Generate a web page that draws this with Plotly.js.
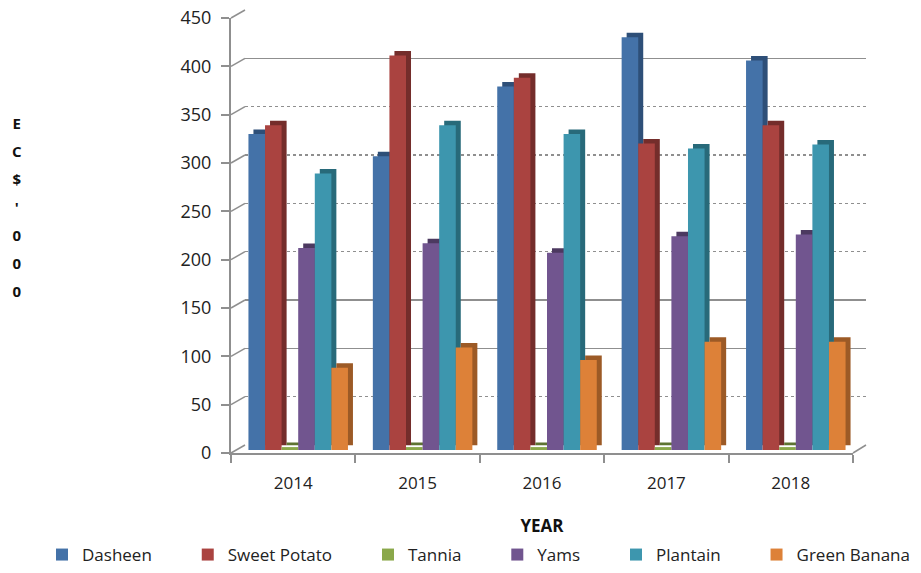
<!DOCTYPE html>
<html><head><meta charset="utf-8">
<script src="https://cdn.plot.ly/plotly-3.0.1.min.js"></script>
<style>html,body{margin:0;padding:0;background:#fff}#c{width:921px;height:573px}</style>
</head><body><div id="c"></div>
<script>
const years = ['2014','2015','2016','2017','2018'];
const dasheen = [327,304,376,427,403];
const sweetPotato = [336,408,385,317,336];
const tannia = [3,3,3,3,3];
const yams = [209,214,204,221,223];
const plantain = [286,336,327,312,316];
const greenBanana = [85,106,93,112,112];
const yTicks = [0,50,100,150,200,250,300,350,400,450];
const seriesNames = ['Dasheen','Sweet Potato','Tannia','Yams','Plantain','Green Banana'];
const seriesValues = [dasheen,sweetPotato,tannia,yams,plantain,greenBanana];
const frontColors = ['#4472a8','#aa4340','#8aa84a','#71558f','#3d96ae','#dd8138'];
const sideColors = ['#2e4f78','#742d2b','#5e7432','#4c3960','#286a7a','#9c5a26'];
const legendPad = [7,7,7,7,7,0];

const W=921,H=573;
const dx=(a,b)=>[a/W,b/W];
const dy=(zero,top)=>[1-zero/H,1-top/H];
const axisColor='#8f8f8f';
const catRange=[-0.5,4.5];
const barLayout={type:'category',visible:false,categoryorder:'array',categoryarray:years,range:catRange,fixedrange:true};
const valueAxis={range:[0,450],visible:false,fixedrange:true};

const traces=[];
traces.push({type:'scatter',mode:'none',x:years,y:tannia,xaxis:'x',yaxis:'y',showlegend:false,hoverinfo:'skip'});
traces.push({type:'scatter',mode:'none',x:years,y:tannia,xaxis:'x2',yaxis:'y2',showlegend:false,hoverinfo:'skip'});
seriesValues.forEach((v,i)=>traces.push({type:'bar',x:years,y:v,xaxis:'x3',yaxis:'y3',showlegend:false,hoverinfo:'skip',marker:{color:sideColors[i],line:{width:0}}}));
seriesValues.forEach((v,i)=>traces.push({type:'bar',x:years,y:v,xaxis:'x4',yaxis:'y4',
  name:seriesNames[i]+'\u00a0'.repeat(legendPad[i]),marker:{color:frontColors[i],line:{width:0}}}));

const shapes=[];
const yFront=v=>453-v*(435/450), yBack=v=>445-v*(435/450);
yTicks.forEach(v=>shapes.push({type:'line',xref:'paper',yref:'paper',layer:'below',
  x0:231/W,x1:245/W,y0:1-yFront(v)/H,y1:1-yBack(v)/H,line:{color:axisColor,width:1.5}}));
shapes.push({type:'line',xref:'paper',yref:'paper',layer:'below',x0:853/W,x1:866/W,y0:1-453/H,y1:1-445/H,line:{color:axisColor,width:1.5}});

const yChars=['E','C','$',"'",'0','0','0'];
const layout={
  width:W,height:H,margin:{l:0,r:0,t:0,b:0},paper_bgcolor:'#fff',plot_bgcolor:'rgba(0,0,0,0)',
  font:{family:'"Open Sans",sans-serif',size:15,color:'#222'},
  barmode:'group',bargap:0.2,bargroupgap:0,
  xaxis:{domain:dx(231,853),type:'category',categoryorder:'array',categoryarray:years,range:catRange,tickson:'boundaries',
    anchor:'y',showline:true,linecolor:axisColor,linewidth:2,ticks:'outside',ticklen:8,tickcolor:axisColor,tickwidth:2,
    showgrid:false,tickfont:{size:17},ticklabelstandoff:14,fixedrange:true,
    title:{text:'<b>YEAR</b>',font:{size:17,color:'#111'},standoff:27}},
  yaxis:{domain:dy(453,18),range:[0,450],anchor:'x',tickvals:yTicks,showline:true,linecolor:axisColor,linewidth:2,
    ticks:'outside',ticklen:8,tickcolor:axisColor,tickwidth:2,showgrid:false,zeroline:false,tickfont:{size:18},ticklabelstandoff:6,fixedrange:true},
  xaxis2:{domain:dx(245,866),anchor:'y2',type:'category',visible:false,range:catRange,fixedrange:true},
  yaxis2:{domain:dy(445,10),range:[0,450],anchor:'x2',tickvals:[0,50,200,250,300,350,450],showgrid:true,gridcolor:axisColor,gridwidth:1.5,griddash:'dot',
    minor:{tickvals:[100,150,400],showgrid:true,gridcolor:axisColor,gridwidth:1.5,griddash:'solid'},
    showticklabels:false,ticks:'',showline:false,zeroline:false,fixedrange:true},
  xaxis3:Object.assign({},barLayout,{domain:dx(241,863),anchor:'y3'}),
  yaxis3:Object.assign({},valueAxis,{domain:dy(445.5,10.5),anchor:'x3'}),
  xaxis4:Object.assign({},barLayout,{domain:dx(236,858),anchor:'y4'}),
  yaxis4:Object.assign({},valueAxis,{domain:dy(450,15),anchor:'x4'}),
  shapes,
  annotations:[{xref:'paper',yref:'paper',x:17/W,y:1-(111)/H,xanchor:'center',yanchor:'top',showarrow:false,align:'center',
    font:{size:21.5,color:'#111'},
    text:yChars.map(c=>'<span style="font-size:15px;font-weight:bold">'+c+'</span>').join('<br>')}],
  legend:{orientation:'h',x:42/W,xanchor:'left',y:0,yanchor:'bottom',font:{size:17,color:'#222'},bgcolor:'rgba(0,0,0,0)',
    traceorder:'normal',itemclick:false,itemdoubleclick:false},
  showlegend:true,hovermode:false
};
Plotly.newPlot('c',traces,layout,{displayModeBar:false,staticPlot:true});
</script></body></html>
